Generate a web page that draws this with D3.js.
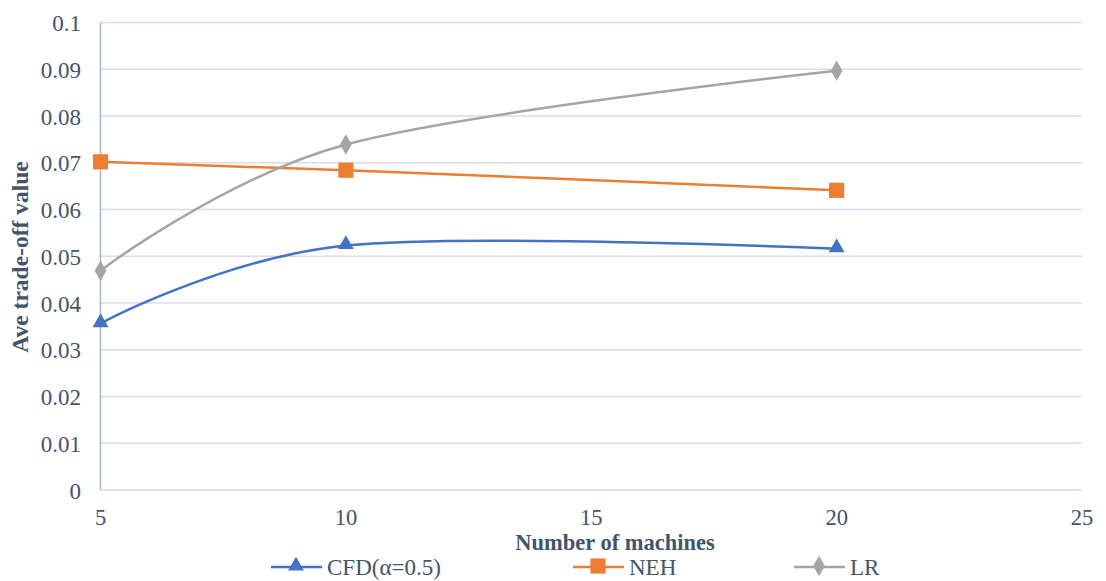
<!DOCTYPE html>
<html>
<head>
<meta charset="utf-8">
<script src="https://cdn.jsdelivr.net/npm/d3@7"></script>
<style>
  body { margin: 0; background: #fff; }
  svg text { font-family: 'Liberation Serif', 'DejaVu Serif', serif; fill: #44546A; }
</style>
</head>
<body>
<div id="chart"></div>
<script>
// data
var machines = [5, 10, 20];
var cfdValues = [0.0356, 0.0523, 0.0516];
var nehValues = [0.0702, 0.0684, 0.0641];
var lrValues = [0.0469, 0.0739, 0.0897];
var seriesNames = ["CFD(\u03b1=0.5)", "NEH", "LR"];
var xTicks = [5, 10, 15, 20, 25];
var yTicks = [0, 0.01, 0.02, 0.03, 0.04, 0.05, 0.06, 0.07, 0.08, 0.09, 0.1];

var width = 1106, height = 581;
var margin = { top: 22.5, right: 24, bottom: 91, left: 100.5 };

var svg = d3.select("#chart")
  .append("svg")
  .attr("width", width)
  .attr("height", height);

var x = d3.scaleLinear()
  .domain([5, 25])
  .range([margin.left, width - margin.right]);

var y = d3.scaleLinear()
  .domain([0, 0.1])
  .range([height - margin.bottom, margin.top]);

// gridlines
svg.append("g")
  .selectAll("line")
  .data(yTicks)
  .enter()
  .append("line")
  .attr("x1", x(5))
  .attr("x2", x(25))
  .attr("y1", function (d) { return y(d); })
  .attr("y2", function (d) { return y(d); })
  .style("stroke", "#D9DDE5")
  .style("stroke-width", 1.3);

// left axis line
svg.append("line")
  .attr("x1", x(5)).attr("x2", x(5))
  .attr("y1", y(0.1)).attr("y2", y(0))
  .style("stroke", "#A9B4CA")
  .style("stroke-width", 1.5);

// y tick labels
svg.append("g")
  .selectAll("text")
  .data(yTicks)
  .enter()
  .append("text")
  .attr("x", 81)
  .attr("y", function (d) { return y(d) + 8.5; })
  .attr("text-anchor", "end")
  .style("font-size", "23px")
  .text(function (d) { return +d.toFixed(2); });

// x tick labels
svg.append("g")
  .selectAll("text")
  .data(xTicks)
  .enter()
  .append("text")
  .attr("x", function (d) { return x(d); })
  .attr("y", 525)
  .attr("text-anchor", "middle")
  .style("font-size", "22.5px")
  .text(function (d) { return d; });

// axis titles
svg.append("text")
  .attr("x", 615)
  .attr("y", 550)
  .attr("text-anchor", "middle")
  .style("font-size", "22.5px")
  .style("font-weight", "bold")
  .text("Number of machines");

svg.append("text")
  .attr("transform", "translate(20,257) rotate(-90)")
  .attr("dy", "0.35em")
  .attr("text-anchor", "middle")
  .style("font-size", "23.5px")
  .style("font-weight", "bold")
  .text("Ave trade-off value");

var series = [
  { name: seriesNames[0], values: cfdValues, color: "#4472C4", symbol: d3.symbolTriangle, size: 110 },
  { name: seriesNames[1], values: nehValues, color: "#ED7D31", symbol: d3.symbolSquare, size: 230 },
  { name: seriesNames[2], values: lrValues, color: "#A5A5A5", symbol: d3.symbolDiamond, size: 120 }
];

var line = d3.line()
  .x(function (d) { return x(d[0]); })
  .y(function (d) { return y(d[1]); })
  .curve(d3.curveCardinal.tension(0));

series.forEach(function (s) {
  var pts = machines.map(function (m, i) { return [m, s.values[i]]; });
  svg.append("path")
    .datum(pts)
    .attr("d", line)
    .style("fill", "none")
    .style("stroke", s.color)
    .style("stroke-width", 2.5);

  svg.append("g")
    .selectAll("path")
    .data(pts)
    .enter()
    .append("path")
    .attr("d", d3.symbol().type(s.symbol).size(s.size))
    .attr("transform", function (d) {
      var off = s.symbol === d3.symbolTriangle ? -1 : 0;
      return "translate(" + x(d[0]) + "," + (y(d[1]) + off) + ")";
    })
    .style("fill", s.color);
});

// legend
var legendX = [271, 573, 794];
var legend = svg.selectAll(".legend")
  .data(series)
  .enter()
  .append("g")
  .attr("transform", function (d, i) { return "translate(" + legendX[i] + ",567)"; });

legend.append("line")
  .attr("x1", 0).attr("x2", 51)
  .attr("y1", 0).attr("y2", 0)
  .style("stroke", function (d) { return d.color; })
  .style("stroke-width", 2.5);

legend.append("path")
  .attr("d", function (d) { return d3.symbol().type(d.symbol).size(d.size)(); })
  .attr("transform", "translate(25,-1)")
  .style("fill", function (d) { return d.color; });

legend.append("text")
  .attr("x", 56)
  .attr("y", 8)
  .style("font-size", "23px")
  .text(function (d) { return d.name; });
</script>
</body>
</html>
